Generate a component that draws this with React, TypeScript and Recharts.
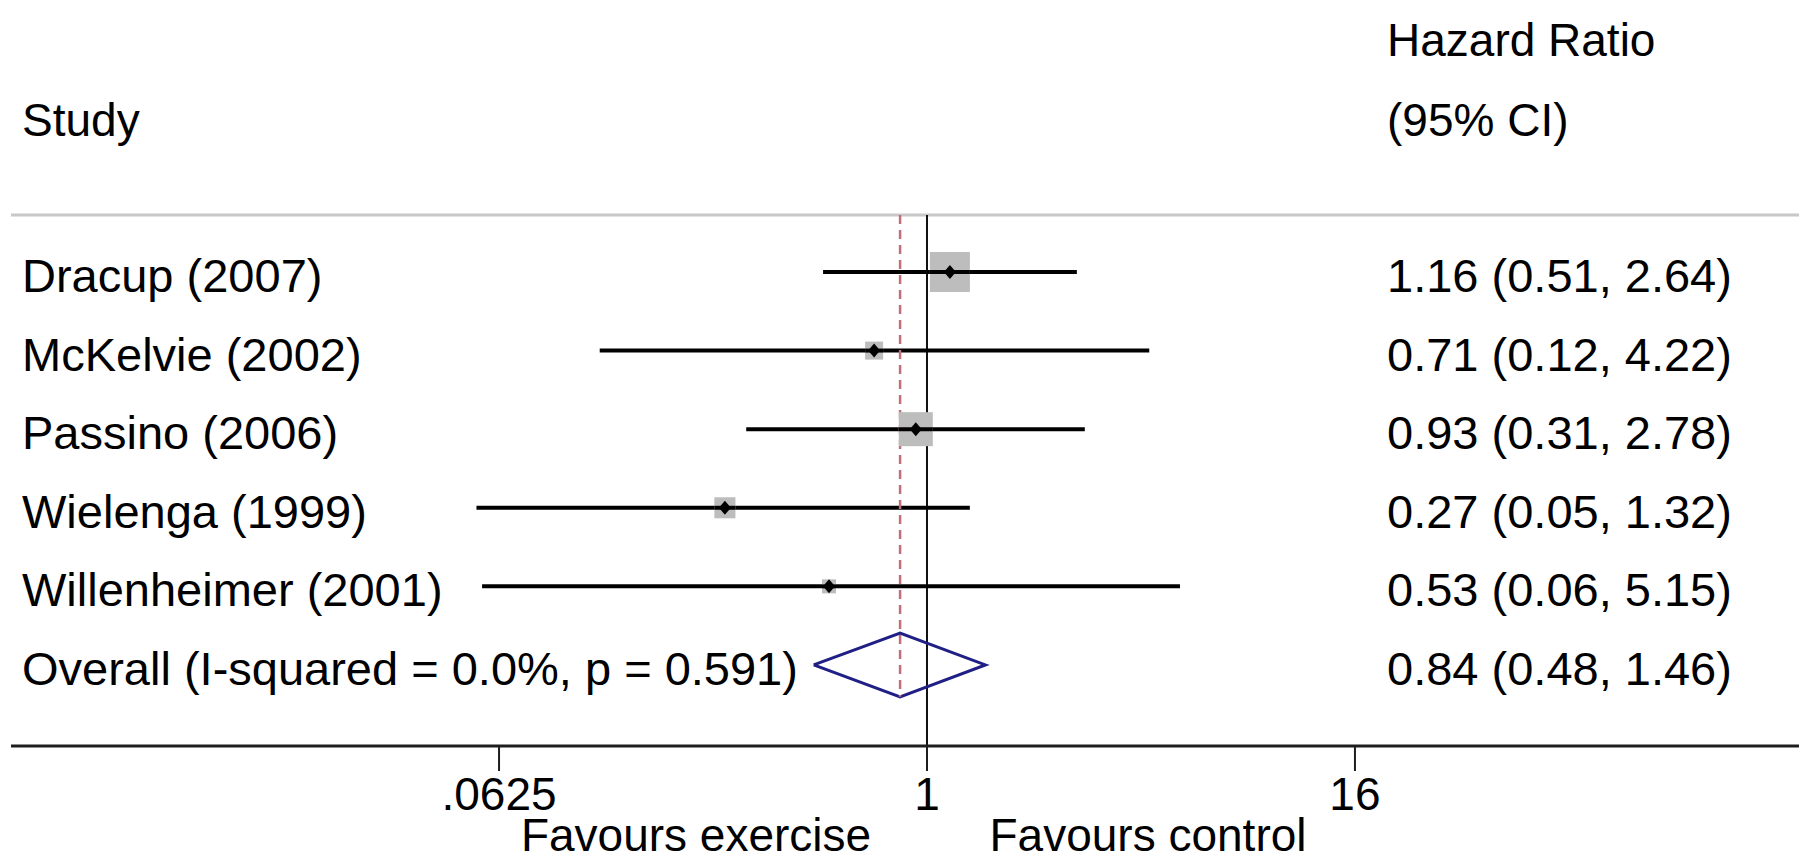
import React from "react";
import { ComposedChart, XAxis, YAxis, Scatter, Line, ReferenceLine } from "recharts";

const W = 1799;
const H = 862;
const FONT = "'Liberation Sans', Arial, Helvetica, sans-serif";

// studies, top to bottom
const studies = ["Dracup (2007)", "McKelvie (2002)", "Passino (2006)", "Wielenga (1999)", "Willenheimer (2001)"];
const hr = [1.16, 0.71, 0.93, 0.27, 0.53];
const ciLow = [0.51, 0.12, 0.31, 0.054, 0.056];
const ciHigh = [2.64, 4.22, 2.78, 1.32, 5.15];
const weights = [43.0, 8.7, 31.1, 11.9, 5.3];

const overallLabel = "Overall (I-squared = 0.0%, p = 0.591)";
const overallHr = 0.84;
const overallLow = 0.48;
const overallHigh = 1.46;

const xTicks = [0.0625, 1, 16];
const xTickLabels = [".0625", "1", "16"];

// axis ranges (log scale, rows as indexes)
const X_MIN = 0.002647;
const X_MAX = 284.1;
const Y_MIN = -0.725;
const Y_MAX = 6.031;
const DIAMOND_HALF = 0.405;

const fmt = (v: number) => v.toFixed(2);
const ciText = (m: number, l: number, h: number) => `${fmt(m)} (${fmt(l)}, ${fmt(h)})`;

const rowLabels = [...studies, overallLabel];
const rowValues = [
  ...studies.map((_, i) => ciText(hr[i], ciLow[i], ciHigh[i])),
  ciText(overallHr, overallLow, overallHigh),
];
const rowTicks = rowLabels.map((_, i) => i);

const points = studies.map((s, i) => ({ x: hr[i], y: i, w: weights[i] }));

const diamond = [
  { x: overallLow, y: studies.length },
  { x: overallHr, y: studies.length - DIAMOND_HALF },
  { x: overallHigh, y: studies.length },
  { x: overallHr, y: studies.length + DIAMOND_HALF },
  { x: overallLow, y: studies.length },
];

const RowTick = (props: any) => {
  const { y, payload } = props;
  const i = payload.value;
  return (
    <g fontFamily={FONT} fontSize={47} fill="#000">
      <text x={22} y={y + 20}>{rowLabels[i]}</text>
      <text x={1387} y={y + 20}>{rowValues[i]}</text>
    </g>
  );
};

const BoxShape = (props: any) => {
  const { cx, cy, payload } = props;
  const side = 6.1 * Math.sqrt(payload.w);
  return (
    <g>
      <rect x={cx - side / 2} y={cy - side / 2} width={side} height={side} fill="#bdbdbd" />
      <line x1={cx - side / 2} x2={cx + side / 2} y1={cy} y2={cy} stroke="#000" strokeWidth={4} />
      <path d={`M${cx - 6},${cy} L${cx},${cy - 7} L${cx + 6},${cy} L${cx},${cy + 7} Z`} fill="#000" />
    </g>
  );
};

export default function App() {
  return (
    <div style={{ position: "absolute", left: 0, top: 0, width: W, height: H, background: "#fff" }}>
      <ComposedChart width={W} height={H} margin={{ top: 215, right: 0, bottom: 16, left: 10 }}>
        <XAxis
          type="number"
          dataKey="x"
          scale="log"
          domain={[X_MIN, X_MAX]}
          allowDataOverflow
          ticks={xTicks}
          interval={0}
          tickFormatter={(v: number) => xTickLabels[xTicks.indexOf(v)]}
          height={100}
          axisLine={{ stroke: "#1e1e1e", strokeWidth: 3 }}
          tickLine={{ stroke: "#1e1e1e", strokeWidth: 2 }}
          tickSize={25}
          tickMargin={6}
          tick={{ fill: "#000", fontSize: 46, fontFamily: FONT }}
        />
        <YAxis
          type="number"
          dataKey="y"
          domain={[Y_MIN, Y_MAX]}
          reversed
          allowDataOverflow
          ticks={rowTicks}
          interval={0}
          width={1}
          axisLine={false}
          tickLine={false}
          tick={(p: any) => <RowTick {...p} />}
        />
        <ReferenceLine y={Y_MIN} stroke="#c8c8c8" strokeWidth={3} />
        <ReferenceLine x={1} stroke="#111" strokeWidth={2} />
        {studies.map((s, i) => (
          <ReferenceLine
            key={s}
            segment={[{ x: ciLow[i], y: i }, { x: ciHigh[i], y: i }]}
            stroke="#000"
            strokeWidth={4}
          />
        ))}
        <Scatter data={points} dataKey="y" shape={<BoxShape />} isAnimationActive={false} />
        <Line
          data={diamond}
          dataKey="y"
          type="linear"
          stroke="#1f1f85"
          strokeWidth={3}
          dot={false}
          activeDot={false}
          isAnimationActive={false}
        />
        <ReferenceLine
          segment={[{ x: overallHr, y: Y_MIN }, { x: overallHr, y: studies.length + DIAMOND_HALF }]}
          stroke="#c0707a"
          strokeWidth={2.5}
          strokeDasharray="9 6"
        />
      </ComposedChart>
      <svg
        width={W}
        height={H}
        style={{ position: "absolute", left: 0, top: 0, pointerEvents: "none" }}
        fontFamily={FONT}
        fontSize={46}
        fill="#000"
      >
        <text x={22} y={136}>Study</text>
        <text x={1387} y={56}>Hazard Ratio</text>
        <text x={1387} y={136}>(95% CI)</text>
        <text x={696} y={851} textAnchor="middle">Favours exercise</text>
        <text x={1148} y={851} textAnchor="middle">Favours control</text>
      </svg>
    </div>
  );
}
